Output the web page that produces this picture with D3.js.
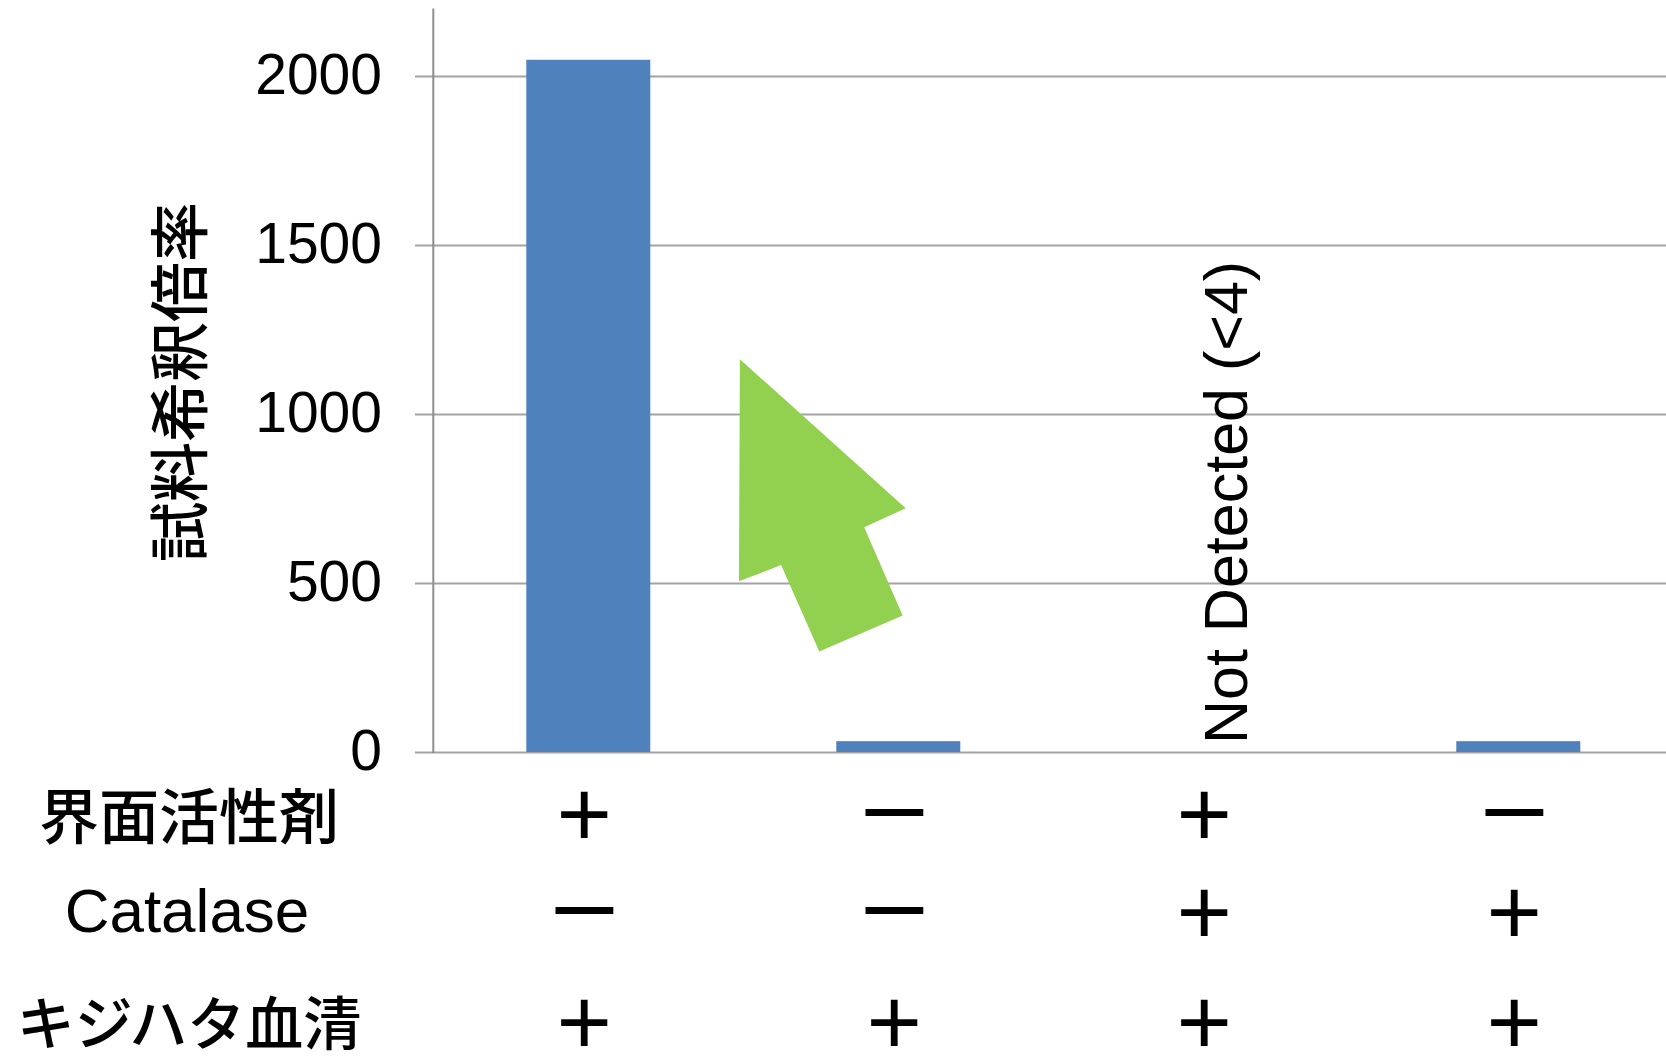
<!DOCTYPE html>
<html>
<head>
<meta charset="utf-8">
<script src="https://cdn.jsdelivr.net/npm/d3@7"></script>
<style>
  html, body { margin: 0; padding: 0; background: #fff; }
  svg { display: block; }
</style>
</head>
<body>
<svg id="chart" width="1666" height="1056"></svg>
<script>
// Sample dilution factor for each condition
const conditions = ["A", "B", "C", "D"];
const dilution = [2048, 32, null, 32];
const yTicks = [0, 500, 1000, 1500, 2000];
const notDetectedIndex = 2;
const notDetectedText = "Not Detected (<4)";

// Condition table shown under the axis
const rowLabels = ["界面活性剤", "Catalase", "キジハタ血清"];
const rowSigns = [
  ["+", "-", "+", "-"],
  ["-", "-", "+", "+"],
  ["+", "+", "+", "+"]
];
const yTitle = "試料希釈倍率";

// Green pointer, in category units (x) and value units (y)
const arrowShape = [
  [0.989, 1162], [1.524, 721], [1.390, 665], [1.514, 404],
  [1.245, 297], [1.122, 553], [0.986, 505]
];

const svg = d3.select("#chart");
const W = 1666, H = 1056;
const plotLeft = 433.3, step = 310, y0 = 752, yTop = 76;
const latin = "'Liberation Sans', Arial, sans-serif";
const cjk = "'Noto Sans CJK JP', sans-serif";

const x = d3.scaleBand().domain(conditions)
  .range([plotLeft, plotLeft + step * conditions.length])
  .paddingInner(0.6).paddingOuter(0.3);
const xc = d3.scaleLinear().domain([0, conditions.length])
  .range([plotLeft, plotLeft + step * conditions.length]);
const y = d3.scaleLinear().domain([0, 2000]).range([y0, yTop]);

// Gridlines with small outer ticks
const yAxis = d3.axisLeft(y).tickValues(yTicks)
  .tickSize(-(W - 415)).tickFormat("").tickSizeOuter(0);
const gAxis = svg.append("g").attr("transform", `translate(415,0)`).call(yAxis);
gAxis.select(".domain").remove();
gAxis.selectAll(".tick line")
  .attr("stroke", "#a3a3a3").attr("stroke-width", 2)
  .attr("x1", 0).attr("x2", W - 415);

// Vertical axis line
svg.append("line")
  .attr("x1", plotLeft).attr("x2", plotLeft)
  .attr("y1", y(2200)).attr("y2", y0 + 1)
  .attr("stroke", "#8e8e8e").attr("stroke-width", 2);

// Tick labels
svg.append("g").selectAll("text").data(yTicks).join("text")
  .attr("x", 382).attr("y", d => y(d) + 18)
  .attr("text-anchor", "end")
  .attr("font-family", latin).attr("font-size", 57)
  .attr("fill", "#000")
  .text(d => d);

// Bars
const barData = conditions.map((c, i) => ({ c, v: dilution[i] })).filter(d => d.v != null);
svg.append("g").selectAll("rect").data(barData).join("rect")
  .attr("x", d => x(d.c)).attr("width", x.bandwidth())
  .attr("y", d => y(d.v)).attr("height", d => y(0) - y(d.v))
  .attr("fill", "#4F81BD");

// Label for the undetected condition
const ndX = x(conditions[notDetectedIndex]) + x.bandwidth() / 2 + 39;
svg.append("text")
  .attr("transform", `translate(${ndX},${y0 - 8}) rotate(-90)`)
  .attr("font-family", latin).attr("font-size", 61)
  .attr("fill", "#000")
  .text(notDetectedText);

// Green pointer arrow
svg.append("path")
  .attr("d", d3.line().x(p => xc(p[0])).y(p => y(p[1]))(arrowShape) + "Z")
  .attr("fill", "#92D050");

// Y-axis title
svg.append("text")
  .attr("transform", `translate(175,382) rotate(-90)`)
  .attr("text-anchor", "middle").attr("dominant-baseline", "central")
  .attr("font-family", cjk).attr("font-size", 60).attr("font-weight", 500)
  .attr("fill", "#000")
  .text(yTitle);

// Condition table
const rowCenters = [812, 910, 1020];
const labelG = svg.append("g");
rowLabels.forEach((lab, r) => {
  const isLatin = /^[A-Za-z]/.test(lab);
  labelG.append("text")
    .attr("x", isLatin ? 187 : 189)
    .attr("y", isLatin ? rowCenters[r] + 22 : rowCenters[r])
    .attr("text-anchor", "middle")
    .attr("dominant-baseline", isLatin ? "auto" : "central")
    .attr("font-family", isLatin ? latin : cjk)
    .attr("font-size", isLatin ? 62 : (lab.length > 5 ? 58 : 60))
    .attr("font-weight", isLatin ? 400 : 500)
    .attr("fill", "#000")
    .text(lab);
});

const signG = svg.append("g");
rowSigns.forEach((row, r) => {
  row.forEach((s, i) => {
    const cx = x(conditions[i]) + x.bandwidth() / 2 - 4;
    const plus = s === "+";
    signG.append("text")
      .attr("x", cx)
      .attr("y", plus ? rowCenters[r] + 34 : rowCenters[r] + 27)
      .attr("text-anchor", "middle")
      .attr("font-family", latin)
      .attr("font-size", plus ? 95 : 104)
      .attr("fill", "#000")
      .text(plus ? "+" : "\u2013");
  });
});
</script>
</body>
</html>
